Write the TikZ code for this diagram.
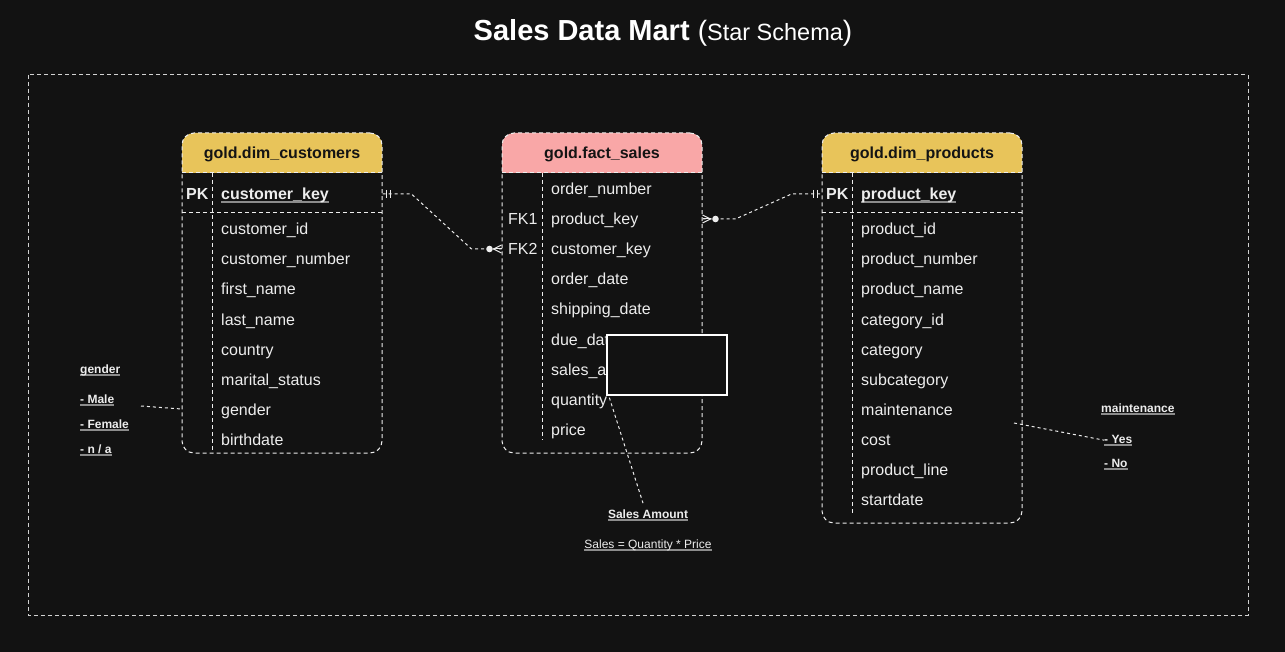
\documentclass[tikz,border=0pt]{standalone}
\usepackage{fontspec}
\setmainfont{Liberation Sans}
\usetikzlibrary{calc}
\definecolor{bg}{HTML}{121212}
\definecolor{fg}{HTML}{EDEDED}
\definecolor{fgdim}{HTML}{D2D2D2}
\definecolor{gold}{HTML}{E8C45A}
\definecolor{pinkh}{HTML}{F9A7A7}
\definecolor{hdrtext}{HTML}{141414}
\definecolor{ulgray}{HTML}{8C8C8C}
\newcommand\gul[1]{\setbox0=\hbox{#1}\rlap{\color{ulgray}\rule[-2.6pt]{\wd0}{1.4pt}}\box0}
\begin{document}
\begin{tikzpicture}[x=1pt,y=-1pt,
 conn/.style={draw=fg, line width=1pt, dash pattern=on 3pt off 3pt},
 mk/.style={draw=fg, line width=1pt},
 tframe/.style={draw=fg, line width=1pt, dash pattern=on 4pt off 3pt, rounded corners=12pt, minimum width=200pt, inner sep=0},
 sepl/.style={draw=fg, line width=1pt, dash pattern=on 4pt off 3pt},
 row/.style={anchor=west, inner sep=0, text=fg, font=\fontsize{16}{19}\selectfont, text height=14pt, text depth=2pt},
 keyrow/.style={row, font=\bfseries\fontsize{16}{19}\selectfont},
 hdr/.style={inner sep=0, text=hdrtext, font=\bfseries\fontsize{16}{19}\selectfont, text height=14pt, text depth=2pt},
 note/.style={anchor=base west, inner sep=0, text=fg, font=\bfseries\fontsize{12}{14}\selectfont},
]
\fill[bg] (0,0) rectangle (1285,652);
\useasboundingbox (0,0) rectangle (1285,652);

% title
\node[anchor=base, text=white, inner sep=0] (title) at (663,41)
  {\fontsize{29}{34}\selectfont\bfseries Sales Data Mart {\mdseries\fontsize{28}{30}\selectfont (\fontsize{23.5}{30}\selectfont Star Schema\fontsize{28}{30}\selectfont)}};

% outer frame
\draw[draw=fgdim, line width=1pt, dash pattern=on 4pt off 3pt] (28,75) rectangle (1248,615);

% headers
\fill[gold] (182,173) [rounded corners=12pt] -- (182,133) -- (382,133) [sharp corners] -- (382,173) -- cycle;
\fill[pinkh] (502,173) [rounded corners=12pt] -- (502,133) -- (702,133) [sharp corners] -- (702,173) -- cycle;
\fill[gold] (822,173) [rounded corners=12pt] -- (822,133) -- (1022,133) [sharp corners] -- (1022,173) -- cycle;
\node[hdr] (hc) at (282,153) {gold.dim\_customers};
\node[hdr] (hf) at (602,153) {gold.fact\_sales};
\node[hdr] (hp) at (922,153) {gold.dim\_products};

% frames
\node[tframe, minimum height=320pt] (cust) at (282,293) {};
\node[tframe, minimum height=320pt] (fact) at (602,293) {};
\node[tframe, minimum height=390pt] (prod) at (922,328) {};

% separators
\draw[sepl] (182,173) -- (382,173);
\draw[sepl] (502,173) -- (702,173);
\draw[sepl] (822,173) -- (1022,173);
\draw[sepl] (182,213) -- (382,213);
\draw[sepl] (822,213) -- (1022,213);
\draw[sepl] (212,173) -- (212,453);
\draw[sepl] (542,173) -- (542,440);
\draw[sepl] (852,173) -- (852,513);

% customers rows
\node[keyrow] (cpk) at (186,194) {PK};
\node[keyrow] (ck) at (221,194) {\gul{customer\_key}};
\foreach \t [count=\i] in {customer\_id, customer\_number, first\_name, last\_name, country, marital\_status, gender, birthdate}
  { \node[row] (c\i) at (221,199+30*\i) {\t}; }

% fact rows
\foreach \t [count=\i] in {order\_number, product\_key, customer\_key, order\_date, shipping\_date, due\_date, sales\_amount, quantity, price}
  { \node[row] (f\i) at (551,159+30*\i) {\t}; }
\node[row] (fk1) at (508,219) {FK1};
\node[row] (fk2) at (508,249) {FK2};

% products rows
\node[keyrow] (ppk) at (826,194) {PK};
\node[keyrow] (pk) at (861,194) {\gul{product\_key}};
\foreach \t [count=\i] in {product\_id, product\_number, product\_name, category\_id, category, subcategory, maintenance, cost, product\_line, startdate}
  { \node[row] (p\i) at (861,199+30*\i) {\t}; }

% overlay box
\node[draw=white, fill=bg, line width=1.3pt, minimum width=120pt, minimum height=60pt, inner sep=0] (box) at (667,365) {};

% connector customers -> fact
\coordinate (A) at (cust.east |- ck);
\coordinate (B) at (fact.west |- f3);
\draw[conn] (A) -- ++(29,0) -- ($(B)+(-30,0)$) -- (B);
\draw[mk] ($(A)+(4,-4)$) -- ($(A)+(4,4)$);
\draw[mk] ($(A)+(8,-4)$) -- ($(A)+(8,4)$);
\fill[fg] ($(B)+(-12,0)$) circle (3.3pt);
\draw[mk] ($(B)+(0,-4)$) -- ($(B)+(-8,0)$) -- ($(B)+(0,4)$);
\draw[mk] ($(B)+(-8,0)$) -- (B);

% connector fact -> products
\coordinate (C) at (fact.east |- f2);
\coordinate (D) at (prod.west |- pk);
\draw[conn] (C) -- ++(33,0) -- ($(D)+(-30,0)$) -- (D);
\fill[fg] ($(C)+(13,0)$) circle (3.3pt);
\draw[mk] ($(C)+(0,-4)$) -- ($(C)+(8,0)$) -- ($(C)+(0,4)$);
\draw[mk] ($(C)+(8,0)$) -- (C);
\draw[mk] ($(D)+(-8,-4)$) -- ($(D)+(-8,4)$);
\draw[mk] ($(D)+(-4,-4)$) -- ($(D)+(-4,4)$);

% gender note
\node[note] (ng) at (80,373) {\gul{gender}};
\node[note] (nm) at (80,403) {\gul{- Male}};
\node[note] (nf) at (80,428) {\gul{- Female}};
\node[note] (nn) at (80,453) {\gul{- n / a}};
\coordinate (gl) at (141,406);
\draw[conn] (gl) -- (cust.west |- c7);

% maintenance note
\node[note] (nmt) at (1101,412) {\gul{maintenance}};
\node[note] (ny) at (1104,443) {\gul{- Yes}};
\node[note] (nno) at (1104,467) {\gul{- No}};
\coordinate (ml) at (1014,423);
\draw[conn] (ml) -- (ny.west);

% sales note
\node[note, anchor=base] (samt) at (648,518) {\gul{Sales Amount}};
\node[note, anchor=base, font=\fontsize{12}{14}\selectfont] (sform) at (648,548) {\gul{Sales = Quantity * Price}};
\draw[conn] ($(box.south west)+(3,2)$) -- ($(samt.north)+(-5,-6)$);
\end{tikzpicture}
\end{document}
